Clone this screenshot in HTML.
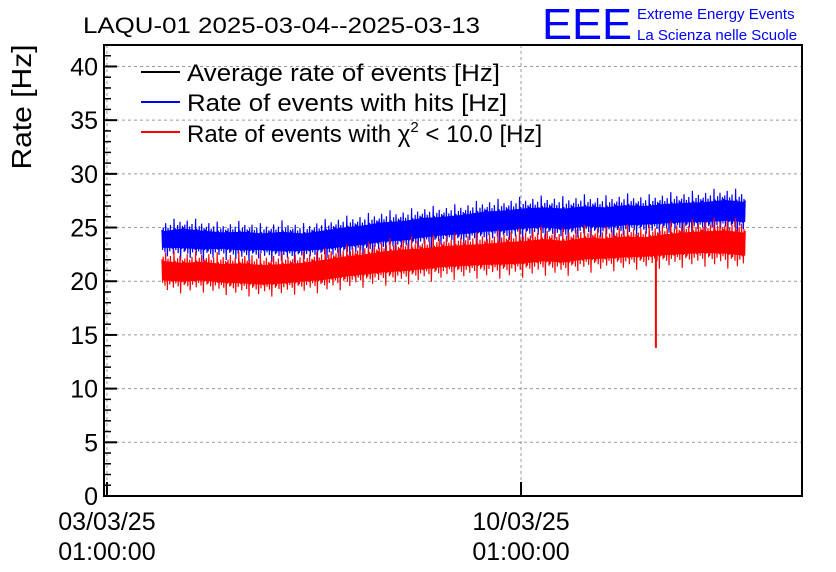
<!DOCTYPE html>
<html><head><meta charset="utf-8"><style>
body{margin:0;background:#fff;width:836px;height:572px;overflow:hidden;font-family:"Liberation Sans",sans-serif}
svg{display:block}
</style></head><body>
<svg id="chart" width="836" height="572" viewBox="0 0 836 572" font-family="Liberation Sans, sans-serif">
<text x="83" y="33" font-size="22" textLength="397" lengthAdjust="spacingAndGlyphs">LAQU-01 2025-03-04--2025-03-13</text>
<text x="542" y="39" font-size="44" fill="#0000ff" textLength="90" lengthAdjust="spacingAndGlyphs">EEE</text>
<text x="637" y="19" font-size="15" fill="#0000ff">Extreme Energy Events</text>
<text x="637" y="40" font-size="15" fill="#0000ff">La Scienza nelle Scuole</text>
<text transform="translate(31,107) rotate(-90)" text-anchor="middle" font-size="28" textLength="125" lengthAdjust="spacingAndGlyphs">Rate [Hz]</text>
<g id="grid"></g>
<g id="series"></g>
<g id="axes"></g>
<g font-size="24">
<line x1="141" y1="72" x2="180" y2="72" stroke="#000" stroke-width="2"/>
<text x="187" y="81" textLength="313" lengthAdjust="spacingAndGlyphs">Average rate of events [Hz]</text>
<line x1="141" y1="102" x2="180" y2="102" stroke="#0000ff" stroke-width="2"/>
<text x="187" y="111" textLength="320" lengthAdjust="spacingAndGlyphs">Rate of events with hits [Hz]</text>
<line x1="141" y1="132" x2="180" y2="132" stroke="#ff0000" stroke-width="2"/>
<text x="187" y="142">Rate of events with χ<tspan font-size="15" dy="-10">2</tspan><tspan dy="10"> &lt; 10.0 [Hz]</tspan></text>
</g>
</svg>
<script>
const dayStart = 0.93, dayStep = 0.34;
const blueHi = [25.0,25.3,25.1,24.9,25.0,24.8,25.0,24.8,25.1,25.4,25.6,25.9,26.0,26.3,26.4,26.6,26.9,27.0,27.2,27.3,27.2,27.4,27.3,27.5,27.4,27.6,27.7,27.8,28.0,27.8];
const blueLo = [22.7,22.6,22.5,22.6,22.4,22.5,22.3,22.4,22.5,22.7,22.9,23.2,23.3,23.6,23.8,23.9,24.1,24.2,24.4,24.5,24.3,24.6,24.5,24.7,24.8,24.9,25.0,25.0,25.1,25.0];
const redHi = [22.3,22.1,22.2,22.0,22.1,21.9,22.0,22.1,22.4,22.7,22.9,23.2,23.4,23.5,23.7,23.8,23.9,24.1,24.2,24.4,24.2,24.5,24.4,24.6,24.5,24.8,25.0,25.1,25.2,25.0];
const redLo = [19.6,19.5,19.6,19.4,19.3,19.2,19.3,19.5,19.6,19.9,20.1,20.3,20.4,20.6,20.8,20.9,21.0,21.0,21.1,21.3,21.2,21.5,21.6,21.7,21.8,21.9,22.0,22.1,22.0,21.8];
const dipDay = [9.28];
const dipValue = [13.8];
const yTicks = [0,5,10,15,20,25,30,35,40];
const xTickDays = [0,7];
const xTickLabels = [["03/03/25","01:00:00"],["10/03/25","01:00:00"]];

const L=104,R=802,T=45,B=496, xmin=-0.05, xmax=11.75, ymin=0, ymax=42;
const X=d=>L+(d-xmin)/(xmax-xmin)*(R-L);
const Y=v=>B-(v-ymin)/(ymax-ymin)*(B-T);
const NS="http://www.w3.org/2000/svg";
function mk(tag,attrs,parent){const e=document.createElementNS(NS,tag);for(const k in attrs)e.setAttribute(k,attrs[k]);parent.appendChild(e);return e;}
const grid=document.getElementById('grid'),axes=document.getElementById('axes'),series=document.getElementById('series');

yTicks.forEach(v=>{
  if(v>0){const g=mk('line',{x1:L,x2:R,y1:Y(v),y2:Y(v),stroke:'#999','stroke-dasharray':'3,3','stroke-width':1},grid);
  
  }
  const t=mk('text',{x:L-6,y:Y(v)+9,'text-anchor':'end','font-size':25},axes);
  t.textContent=v;
  
  
  const tk=mk('line',{x1:L,x2:L+13,y1:Y(v),y2:Y(v),stroke:'#000','stroke-width':2},axes);
  
  
});
for(let v=1;v<=ymax;v++){ if(v%5===0)continue;
  const tk=mk('line',{x1:L,x2:L+7,y1:Y(v),y2:Y(v),stroke:'#000','stroke-width':1.5},axes);
  
  
}
xTickDays.forEach((d,i)=>{
  const g=mk('line',{x1:X(d),x2:X(d),y1:T,y2:B,stroke:'#999','stroke-dasharray':'3,3','stroke-width':1},grid);
  
  
  const tk=mk('line',{x1:X(d),x2:X(d),y1:B,y2:B-14,stroke:'#000','stroke-width':2},axes);
  
  
  xTickLabels[i].forEach((s,j)=>{
    const t=mk('text',{x:X(d),y:530+j*30,'text-anchor':'middle','font-size':25},axes);
    t.textContent=s;
    
    
  });
});
const fr=mk('rect',{x:L,y:T,width:R-L,height:B-T,fill:'none',stroke:'#000','stroke-width':2},axes);



function env(arr,d){const f=(d-dayStart)/dayStep;let i=Math.floor(f);if(i<0)i=0;if(i>=arr.length-1)i=arr.length-2;const t=Math.min(1,Math.max(0,f-i));return arr[i]*(1-t)+arr[i+1]*t;}
const patUp=[0.9,1.0,0.7,1.15,0.8,0.95,0.6,1.05,0.85,0.75,1.25,0.9,0.65,1.0,0.8,1.1,0.7,0.95];
const patDn=[0.1,0.3,0.0,0.2,-0.15,0.35,0.05,0.25,0.15,-0.05,0.3,0.1,0.4,0.0,0.2,-0.25,0.15,0.3,0.05];
function band(hi,lo,color,name){
  const dEnd=dayStart+dayStep*(hi.length-1);
  const x0=X(dayStart),x1=X(dEnd);
  let pts=[],k=0;
  for(let x=x0;x<=x1;x+=0.6,k++){
    const d=xmin+(x-L)/(R-L)*(xmax-xmin);
    const h=env(hi,d),l=env(lo,d);
    const f=(k%2===0)?patUp[(k>>1)%patUp.length]:patDn[(k>>1)%patDn.length];
    const v=l+(h-l)*f;
    pts.push(x.toFixed(1)+','+Y(v).toFixed(1));
  }
  const pl=mk('polyline',{points:pts.join(' '),fill:'none',stroke:color,'stroke-width':1.2},series);
  
  
  const core=[];
  for(let i=0;i<hi.length;i++){const d=dayStart+i*dayStep;core.push(X(d)+','+Y(lo[i]+(hi[i]-lo[i])*0.85));}
  for(let i=hi.length-1;i>=0;i--){const d=dayStart+i*dayStep;core.push(X(d)+','+Y(lo[i]+(hi[i]-lo[i])*0.18));}
  const pg=mk('polygon',{points:core.join(' '),fill:color},series);
  
  
}
band(blueHi,blueLo,'#0000ff','hits-rate-series');
band(redHi,redLo,'#ff0000','chi2-rate-series');
dipDay.forEach((d,i)=>{
  const base=env(redLo,d)+1;
  const s=mk('line',{x1:X(d),x2:X(d),y1:Y(base),y2:Y(dipValue[i]),stroke:'#ff0000','stroke-width':2},series);
  
  
});
</script>
</body></html>
